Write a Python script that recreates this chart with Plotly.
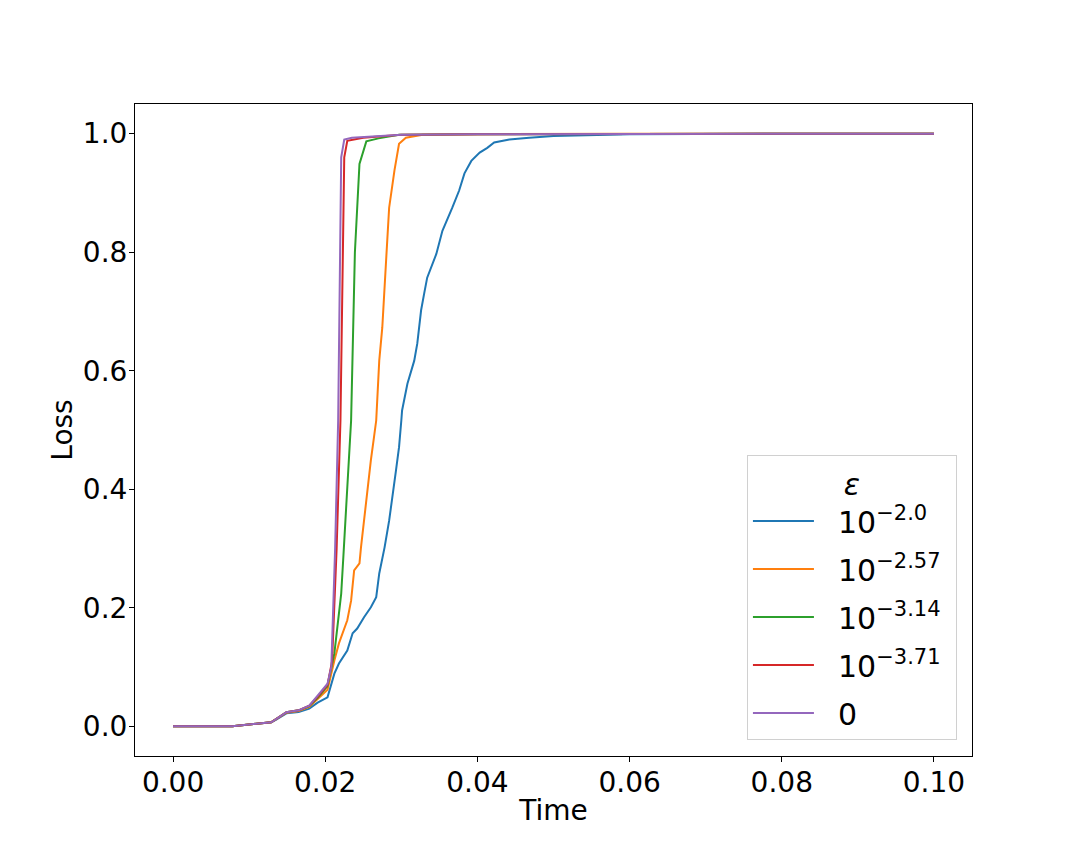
import plotly.graph_objects as go

# ---- data ----
labels = ["\u00a0\u00a010<sup>\u22122.0</sup>\u00a0", "\u00a0\u00a010<sup>\u22122.57</sup>\u00a0",
          "\u00a0\u00a010<sup>\u22123.14</sup>\u00a0", "\u00a0\u00a010<sup>\u22123.71</sup>\u00a0",
          "\u00a0\u00a00"]
colors = ["#1f77b4", "#ff7f0e", "#2ca02c", "#d62728", "#9467bd"]

t_blue = [0, 0.0078, 0.0129, 0.0135, 0.0149, 0.0165, 0.0179, 0.0190, 0.0203, 0.0212, 0.0218,
          0.0229, 0.0236, 0.0242, 0.0251, 0.0260, 0.0267, 0.0271, 0.0278, 0.0284, 0.0293,
          0.0297, 0.0300, 0.0301, 0.0308, 0.0317, 0.0321, 0.0326, 0.0330, 0.0334, 0.0346,
          0.0354, 0.0367, 0.0376, 0.0383, 0.0392, 0.0403, 0.0413, 0.0422, 0.0442, 0.0468,
          0.0500, 0.0600, 0.0700, 0.0800, 0.1000]
l_blue = [0, 0, 0.007, 0.011, 0.022, 0.024, 0.030, 0.040, 0.049, 0.089, 0.106,
          0.128, 0.157, 0.165, 0.184, 0.201, 0.218, 0.258, 0.302, 0.347, 0.432,
          0.471, 0.516, 0.533, 0.578, 0.617, 0.646, 0.702, 0.730, 0.757, 0.797,
          0.836, 0.875, 0.904, 0.933, 0.954, 0.968, 0.976, 0.985, 0.990, 0.993,
          0.996, 0.999, 1.0, 1.0, 1.0]

t_orange = [0, 0.0078, 0.0129, 0.0135, 0.0149, 0.0165, 0.0179, 0.0190, 0.0203, 0.0212, 0.0218,
            0.0229, 0.0234, 0.0238, 0.0245, 0.0247, 0.0251, 0.0255, 0.0260, 0.0264, 0.0267,
            0.0271, 0.0275, 0.0280, 0.0284, 0.0291, 0.0297, 0.0306, 0.0328, 0.0400, 0.0600, 0.1000]
l_orange = [0, 0, 0.007, 0.012, 0.023, 0.026, 0.033, 0.046, 0.062, 0.111, 0.140,
            0.179, 0.212, 0.263, 0.275, 0.302, 0.347, 0.398, 0.449, 0.487, 0.516,
            0.617, 0.673, 0.786, 0.875, 0.938, 0.983, 0.993, 0.998, 0.999, 1.0, 1.0]

t_green = [0, 0.0078, 0.0129, 0.0135, 0.0149, 0.0165, 0.0179, 0.0190, 0.0203, 0.0212, 0.0221,
           0.0224, 0.0229, 0.0234, 0.0239, 0.0245, 0.0254, 0.0270, 0.0297, 0.0400, 0.1000]
l_green = [0, 0, 0.007, 0.012, 0.024, 0.027, 0.034, 0.048, 0.068, 0.123, 0.224,
           0.290, 0.400, 0.516, 0.800, 0.949, 0.987, 0.992, 0.998, 0.999, 1.0]

t_red = [0, 0.0078, 0.0129, 0.0135, 0.0149, 0.0165, 0.0179, 0.0190, 0.0203, 0.0209, 0.0215,
         0.0220, 0.0225, 0.0229, 0.0250, 0.0300, 0.0400, 0.1000]
l_red = [0, 0, 0.007, 0.012, 0.024, 0.027, 0.035, 0.050, 0.070, 0.110, 0.300,
         0.516, 0.960, 0.988, 0.993, 0.998, 0.999, 1.0]

t_purple = [0, 0.0078, 0.0129, 0.0135, 0.0149, 0.0165, 0.0179, 0.0190, 0.0203, 0.0208, 0.0213,
            0.0217, 0.0221, 0.0225, 0.0235, 0.0300, 0.0400, 0.1000]
l_purple = [0, 0, 0.007, 0.012, 0.024, 0.027, 0.035, 0.052, 0.072, 0.100, 0.300,
            0.516, 0.960, 0.990, 0.993, 0.998, 0.999, 1.0]

series_t = [t_blue, t_orange, t_green, t_red, t_purple]
series_l = [l_blue, l_orange, l_green, l_red, l_purple]

x_ticks = [0.00, 0.02, 0.04, 0.06, 0.08, 0.10]
x_ticklabels = ["0.00", "0.02", "0.04", "0.06", "0.08", "0.10"]
y_ticks = [0.0, 0.2, 0.4, 0.6, 0.8, 1.0]
y_ticklabels = ["0.0", "0.2", "0.4", "0.6", "0.8", "1.0"]

FONT = "DejaVu Sans"

fig = go.Figure()
for i, (tt, ll) in enumerate(zip(series_t, series_l)):
    fig.add_trace(go.Scatter(
        x=tt, y=ll, mode="lines", name=labels[i],
        line=dict(color=colors[i], width=2),
        legendgroup=f"g{i}",
    ))

axis_common = dict(
    showline=True, linecolor="black", linewidth=1, mirror=True,
    ticks="outside", ticklen=5, tickwidth=1, tickcolor="black",
    showgrid=False, zeroline=False, ticklabelstandoff=-4,
    tickfont=dict(family=FONT, size=28, color="black"),
)

# the page body has an 8px margin; size the figure so the axes box lands
# where the reference has it (135..972 x 104..756)
fig.update_layout(
    width=1064, height=848,
    margin=dict(l=127, r=100, t=96, b=100),
    paper_bgcolor="white", plot_bgcolor="white",
    font=dict(family=FONT, color="black"),
    xaxis=dict(range=[-0.005, 0.105], tickvals=x_ticks, ticktext=x_ticklabels,
               title=dict(text="Time", font=dict(family=FONT, size=28), standoff=2),
               **axis_common),
    yaxis=dict(range=[-0.05, 1.05], tickvals=y_ticks, ticktext=y_ticklabels,
               title=dict(text="Loss", font=dict(family=FONT, size=28), standoff=2),
               **axis_common),
    legend=dict(
        x=0.982, y=0.0245, xanchor="right", yanchor="bottom",
        bgcolor="rgba(255,255,255,0.8)", bordercolor="#d0d0d0", borderwidth=1,
        font=dict(family=FONT, size=30, color="black"),
        title=dict(text="<i>\u03b5</i>", side="top center",
                   font=dict(family=FONT, size=30, color="black")),
        traceorder="grouped", tracegroupgap=6,
        itemwidth=61,
    ),
    showlegend=True,
)

fig.write_html("out.html")
